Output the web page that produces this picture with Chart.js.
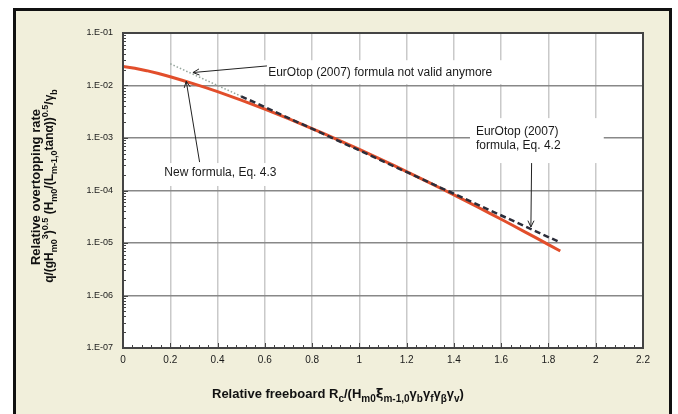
<!DOCTYPE html>
<html>
<head>
<meta charset="utf-8">
<script src="https://cdn.jsdelivr.net/npm/chart.js@4/dist/chart.umd.min.js"></script>
<style>
  html, body { margin: 0; padding: 0; background: #ffffff; }
  #c { display: block; }
</style>
</head>
<body>
<canvas id="c" width="678" height="414"></canvas>
<script>
// ---------------- DATA ----------------
const xTickVals   = [0, 0.2, 0.4, 0.6, 0.8, 1, 1.2, 1.4, 1.6, 1.8, 2, 2.2];
const xTickLabels = ['0', '0.2', '0.4', '0.6', '0.8', '1', '1.2', '1.4', '1.6', '1.8', '2', '2.2'];
const yTickVals   = [1e-7, 1e-6, 1e-5, 1e-4, 1e-3, 1e-2, 1e-1];
const yTickLabels = ['1.E-07', '1.E-06', '1.E-05', '1.E-04', '1.E-03', '1.E-02', '1.E-01'];

// New formula, Eq. 4.3 (red)
const newFormulaX = [0, 0.05, 0.1, 0.15, 0.2, 0.25, 0.3, 0.35, 0.4, 0.45, 0.5, 0.55, 0.6, 0.65, 0.7, 0.75,
                     0.8, 0.85, 0.9, 0.95, 1.0, 1.05, 1.1, 1.15, 1.2, 1.25, 1.3, 1.35, 1.4, 1.45, 1.5, 1.55,
                     1.6, 1.65, 1.7, 1.75, 1.8, 1.85];
const newFormulaY = [0.02300, 0.02136, 0.01917, 0.01689, 0.01468, 0.01262, 0.01075, 0.009083, 0.007618,
                     0.006344, 0.005251, 0.004322, 0.003538, 0.002880, 0.002334, 0.001883, 0.001513,
                     0.001211, 0.0009646, 0.0007657, 0.0006055, 0.0004773, 0.0003749, 0.0002935,
                     0.0002290, 0.0001781, 0.0001381, 0.0001067, 0.00008229, 0.00006327, 0.00004851,
                     0.00003710, 0.00002829, 0.00002152, 0.00001633, 0.00001236, 0.000009327, 0.000007029];

// EurOtop (2007) formula, Eq. 4.2 (black dashed, valid range)
const eurotopX = [0.5, 1.0, 1.5, 1.85];
const eurotopY = [0.006232, 0.0005797, 0.00005391, 0.00001023];

// EurOtop (2007) formula not valid anymore (grey dotted)
const notValidX = [0.2, 0.5];
const notValidY = [0.02590, 0.006232];

// ---------------- TEXT ----------------
const annotationTexts = {
  notValid: 'EurOtop (2007) formula not valid anymore',
  newFormula: 'New formula, Eq. 4.3',
  eurotop1: 'EurOtop (2007)',
  eurotop2: 'formula, Eq. 4.2'
};
const yTitleLine1 = [{t: 'Relative overtopping rate', s: 'n'}];
const yTitleLine2 = [
  {t: 'q/(gH', s: 'n'}, {t: 'm0', s: 'sub'}, {t: '3', s: 'sup'}, {t: ')', s: 'n'}, {t: '0.5', s: 'sup'},
  {t: ' (H', s: 'n'}, {t: 'm0', s: 'sub'}, {t: '/(L', s: 'n'}, {t: 'm-1,0', s: 'sub'},
  {t: 'tanα))', s: 'n'}, {t: '0.5', s: 'sup'}, {t: '/γ', s: 'n'}, {t: 'b', s: 'sub'}
];
const xTitle = [
  {t: 'Relative freeboard R', s: 'n'}, {t: 'c', s: 'sub'}, {t: '/(H', s: 'n'}, {t: 'm0', s: 'sub'},
  {t: 'ξ', s: 'n', f: "'DejaVu Sans'"}, {t: 'm-1,0', s: 'sub'}, {t: 'γ', s: 'n'}, {t: 'b', s: 'sub'}, {t: 'γ', s: 'n'},
  {t: 'f', s: 'sub'}, {t: 'γ', s: 'n'}, {t: 'β', s: 'sub'}, {t: 'γ', s: 'n'}, {t: 'v', s: 'sub'}, {t: ')', s: 'n'}
];

// ---------------- HELPERS ----------------
const FONT = "'Liberation Sans', Arial, sans-serif";
const toPts = (xs, ys) => xs.map((x, i) => ({x: x, y: ys[i]}));

function segFont(seg, base, bold) {
  const size = seg.s === 'n' ? base : Math.round(base * 0.75);
  return (bold ? 'bold ' : '') + size + 'px ' + (seg.f ? seg.f + ', ' : '') + FONT;
}
function richWidth(ctx, segs, base, bold) {
  let w = 0;
  segs.forEach(s => { ctx.font = segFont(s, base, bold); w += ctx.measureText(s.t).width; });
  return w;
}
function drawRich(ctx, segs, x, y, base, bold, align) {
  const total = richWidth(ctx, segs, base, bold);
  let cx = align === 'center' ? x - total / 2 : x;
  ctx.textBaseline = 'alphabetic';
  ctx.textAlign = 'left';
  segs.forEach(s => {
    ctx.font = segFont(s, base, bold);
    let dy = 0;
    if (s.s === 'sub') dy = base * 0.3;
    if (s.s === 'sup') dy = -base * 0.42;
    ctx.fillText(s.t, cx, y + dy);
    cx += ctx.measureText(s.t).width;
  });
}
function arrow(ctx, x1, y1, x2, y2) {
  ctx.beginPath();
  ctx.moveTo(x1, y1);
  ctx.lineTo(x2, y2);
  ctx.stroke();
  const ang = Math.atan2(y2 - y1, x2 - x1);
  const L = 7, A = 0.45;
  ctx.beginPath();
  ctx.moveTo(x2 - L * Math.cos(ang - A), y2 - L * Math.sin(ang - A));
  ctx.lineTo(x2, y2);
  ctx.lineTo(x2 - L * Math.cos(ang + A), y2 - L * Math.sin(ang + A));
  ctx.stroke();
}

// annotation layout (in data units)
const annotations = [
  {box: [0.59, 0.0303, 1.646, 0.0106], lines: [{text: annotationTexts.notValid, x: 0.614, y: 0.0179}],
   arrow: [0.609, 0.0236, 0.296, 0.01766]},
  {box: [0.141, 3.33e-4, 0.707, 1.22e-4], lines: [{text: annotationTexts.newFormula, x: 0.175, y: 2.15e-4}],
   arrow: [0.324, 3.48e-4, 0.2675, 0.01208]},
  {box: [1.468, 2.39e-3, 2.034, 3.33e-4], lines: [{text: annotationTexts.eurotop1, x: 1.493, y: 1.294e-3},
                                                  {text: annotationTexts.eurotop2, x: 1.493, y: 7.02e-4}],
   arrow: [1.7287, 3.33e-4, 1.7257, 2.02e-5]}
];

const decorPlugin = {
  id: 'decor',
  beforeDraw(chart) {
    const c = chart.ctx, a = chart.chartArea;
    c.save();
    c.fillStyle = '#ffffff';
    c.fillRect(0, 0, chart.width, chart.height);
    c.fillStyle = '#F1EFDB';
    c.fillRect(14, 9, 657, 430);
    c.strokeStyle = '#111111';
    c.lineWidth = 3;
    c.strokeRect(14.5, 9.5, 656, 430);
    c.fillStyle = '#ffffff';
    c.fillRect(a.left, a.top, a.right - a.left, a.bottom - a.top);
    c.restore();
  },
  afterDraw(chart) {
    const c = chart.ctx, a = chart.chartArea;
    const xs = chart.scales.x, ys = chart.scales.y;
    c.save();
    // plot border
    c.strokeStyle = '#444444';
    c.lineWidth = 2;
    c.strokeRect(a.left, a.top, a.right - a.left, a.bottom - a.top);
    // minor ticks on y axis (inside)
    c.lineWidth = 1;
    c.strokeStyle = '#444444';
    for (let d = -7; d < -1; d++) {
      for (let k = 1; k <= 9; k++) {
        const v = k * Math.pow(10, d);
        const py = Math.round(ys.getPixelForValue(v)) + 0.5;
        const len = k === 1 ? 5 : 3;
        c.beginPath(); c.moveTo(a.left, py); c.lineTo(a.left + len, py); c.stroke();
      }
    }
    // minor ticks on x axis (inside)
    for (let i = 0; i <= 55; i++) {
      const v = i * 0.04;
      const px = Math.round(xs.getPixelForValue(v)) + 0.5;
      const len = (i % 5 === 0) ? 5 : 3;
      c.beginPath(); c.moveTo(px, a.bottom); c.lineTo(px, a.bottom - len); c.stroke();
    }
    // annotations
    annotations.forEach(an => {
      const bx1 = xs.getPixelForValue(an.box[0]), by1 = ys.getPixelForValue(an.box[1]);
      const bx2 = xs.getPixelForValue(an.box[2]), by2 = ys.getPixelForValue(an.box[3]);
      c.fillStyle = '#ffffff';
      c.fillRect(bx1, by1, bx2 - bx1, by2 - by1);
      c.fillStyle = '#1a1a1a';
      c.font = '12px ' + FONT;
      c.textAlign = 'left';
      c.textBaseline = 'middle';
      an.lines.forEach(l => {
        c.fillText(l.text, xs.getPixelForValue(l.x), ys.getPixelForValue(l.y));
      });
      c.strokeStyle = '#222222';
      c.lineWidth = 1;
      arrow(c, xs.getPixelForValue(an.arrow[0]), ys.getPixelForValue(an.arrow[1]),
               xs.getPixelForValue(an.arrow[2]), ys.getPixelForValue(an.arrow[3]));
    });
    // axis titles
    c.fillStyle = '#111111';
    drawRich(c, xTitle, 212, 398, 13, true, 'left');
    c.save();
    c.translate(40, 187);
    c.rotate(-Math.PI / 2);
    drawRich(c, yTitleLine1, 0, 0, 13, true, 'center');
    c.restore();
    c.save();
    c.translate(53, 186);
    c.rotate(-Math.PI / 2);
    drawRich(c, yTitleLine2, 0, 0, 12, true, 'center');
    c.restore();
    c.restore();
  }
};

new Chart(document.getElementById('c'), {
  type: 'line',
  data: {
    datasets: [
      {label: 'EurOtop (2007) formula, Eq. 4.2', data: toPts(eurotopX, eurotopY),
       borderColor: '#2b2d3a', borderWidth: 2.5, borderDash: [6, 3.5], pointRadius: 0, fill: false, tension: 0},
      {label: 'New formula, Eq. 4.3', data: toPts(newFormulaX, newFormulaY),
       borderColor: '#E24E2B', borderWidth: 3, pointRadius: 0, fill: false, tension: 0},
      {label: 'EurOtop (2007) formula not valid anymore', data: toPts(notValidX, notValidY),
       borderColor: '#95a59c', borderWidth: 1.5, borderDash: [1.5, 2], pointRadius: 0, fill: false, tension: 0}
    ]
  },
  options: {
    responsive: false,
    devicePixelRatio: 1,
    animation: false,
    layout: {padding: {left: 0, top: 33, right: 35, bottom: 0}},
    plugins: {legend: {display: false}, tooltip: {enabled: false}, title: {display: false}},
    scales: {
      x: {
        type: 'linear', min: 0, max: 2.2,
        afterBuildTicks: s => { s.ticks = xTickVals.map(v => ({value: v})); },
        afterFit: s => { s.height = 66; },
        ticks: {callback: (v, i) => xTickLabels[i], font: {family: FONT, size: 10}, color: '#1a1a1a',
                padding: 6, maxRotation: 0, autoSkip: false},
        grid: {color: '#c9c9c9', lineWidth: 1.5, drawTicks: false},
        border: {display: true, color: '#444444', width: 2}
      },
      y: {
        type: 'logarithmic', min: 1e-7, max: 1e-1,
        afterBuildTicks: s => { s.ticks = yTickVals.map(v => ({value: v})); },
        afterFit: s => { s.width = 123; },
        ticks: {callback: (v, i) => yTickLabels[i], font: {family: FONT, size: 9}, color: '#1a1a1a',
                padding: 10, autoSkip: false},
        grid: {color: '#888888', lineWidth: 1.5, drawTicks: false},
        border: {display: true, color: '#444444', width: 2}
      }
    }
  },
  plugins: [decorPlugin]
});
</script>
</body>
</html>
